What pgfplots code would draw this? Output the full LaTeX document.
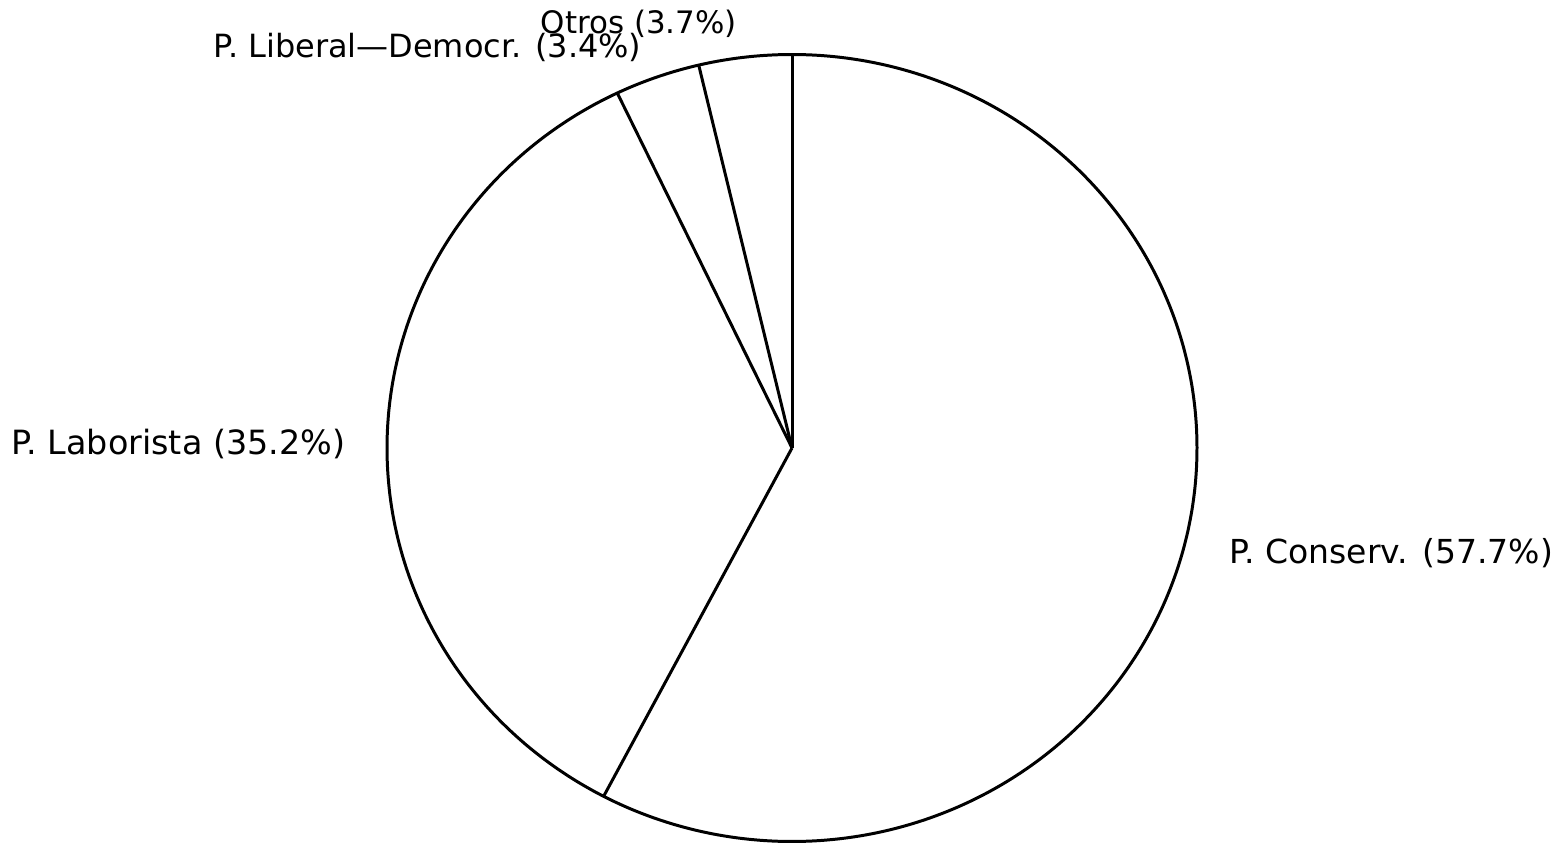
\documentclass[border=0pt]{standalone}
\usepackage{fontspec}
\setmainfont{DejaVu Sans}
\usepackage{pgfplots}
\usepackage{pgfplotstable}
\pgfplotsset{compat=1.18}
\pgfplotstableread{
party pct
Conserv 57.7
Laborista 35.2
LiberalDemocr 3.4
Otros 3.7
}\piedata
\pgfplotstablegetelem{0}{pct}\of\piedata \let\pA\pgfplotsretval
\pgfplotstablegetelem{1}{pct}\of\piedata \let\pB\pgfplotsretval
\pgfplotstablegetelem{2}{pct}\of\piedata \let\pC\pgfplotsretval
% centre and radii in pixel units (y up)
\def\cx{792}\def\cy{397}\def\rx{405}\def\ry{393.5}
\pgfmathsetmacro\tA{3.6*\pA}
\pgfmathsetmacro\tB{3.6*(\pA+\pB)}
\pgfmathsetmacro\tC{3.6*(\pA+\pB+\pC)}
\pgfmathsetmacro\xO{\cx}\pgfmathsetmacro\yO{\cy+\ry}
\pgfmathsetmacro\xA{\cx+\rx*sin(\tA)}\pgfmathsetmacro\yA{\cy+\ry*cos(\tA)}
\pgfmathsetmacro\xB{\cx+\rx*sin(\tB)}\pgfmathsetmacro\yB{\cy+\ry*cos(\tB)}
\pgfmathsetmacro\xC{\cx+\rx*sin(\tC)}\pgfmathsetmacro\yC{\cy+\ry*cos(\tC)}
\begin{document}%
\begin{tikzpicture}
\begin{axis}[
  width=15.59cm, height=8.45cm, scale only axis,
  xmin=0, xmax=1559, ymin=0, ymax=845,
  hide axis, clip=false,
]
\addplot[black, line width=0.85pt, domain=0:360, samples=240, smooth]
  ({\cx+\rx*cos(x)},{\cy+\ry*sin(x)});
\addplot[black, line width=0.85pt] coordinates {(\cx,\cy) (\xO,\yO)};
\addplot[black, line width=0.85pt] coordinates {(\cx,\cy) (\xA,\yA)};
\addplot[black, line width=0.85pt] coordinates {(\cx,\cy) (\xB,\yB)};
\addplot[black, line width=0.85pt] coordinates {(\cx,\cy) (\xC,\yC)};
\begin{scope}[every node/.style={anchor=base west, inner sep=0pt}]
\node[font=\fontsize{9.4}{11}\selectfont] at (axis cs:1229,282) {P. Conserv. (57.7\%)};
\node[font=\fontsize{9.5}{11}\selectfont] at (axis cs:11,390) {P. Laborista (35.2\%)};
\node[font=\fontsize{9.1}{11}\selectfont] at (axis cs:213,787) {P. Liberal—Democr. (3.4\%)};
\node[font=\fontsize{8.8}{11}\selectfont] at (axis cs:540,811) {Otros (3.7\%)};
\end{scope}
\path (axis cs:0,0) (axis cs:1559,845);
\end{axis}
\end{tikzpicture}%
\end{document}
